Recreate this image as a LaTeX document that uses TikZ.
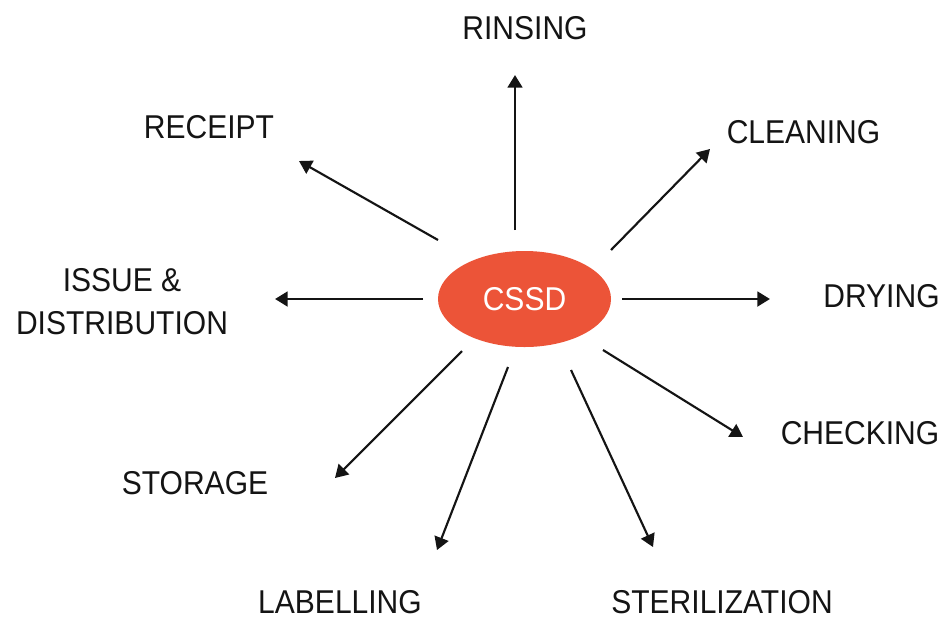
\documentclass[tikz,border=0pt]{standalone}
\usepackage{fontspec}
\setmainfont{Liberation Sans}[FakeStretch=0.91]
\usetikzlibrary{arrows.meta,shapes.geometric}
\definecolor{hubred}{HTML}{EC5438}
\definecolor{inkgray}{HTML}{141414}
\tikzset{
  stage/.style={font=\fontsize{24.75pt}{32.25pt}\selectfont, text=inkgray, inner sep=0pt, anchor=base},
  hub/.style={ellipse, fill=hubred, minimum width=129.75pt, minimum height=72pt, inner sep=0pt,
              text=white, font=\fontsize{24.75pt}{30pt}\selectfont},
  flow/.style={draw=inkgray, line width=1.6pt, -{Triangle[length=9.5pt,width=11pt]}},
  axisflow/.style={flow, line width=2.1pt},
}
\begin{document}
\begin{tikzpicture}[x=0.75pt, y=-0.75pt]
  \useasboundingbox (0,0) rectangle (944,619);
  \fill[white] (0,0) rectangle (944,619);

  % central unit
  \node[hub] (c) at (524.5,299) {CSSD};

  % stages around it
  \node[stage] (rinsing)  at (525,39)   {RINSING};
  \node[stage] (cleaning) at (803.5,143) {CLEANING};
  \node[stage] (drying)   at (881.5,307) {DRYING};
  \node[stage] (checking) at (860,444)  {CHECKING};
  \node[stage] (steril)   at (722,613)  {STERILIZATION};
  \node[stage] (label)    at (340,613)  {LABELLING};
  \node[stage] (storage)  at (195,494)  {STORAGE};
  \node[stage, align=center, anchor=center] (issue) at (122,301.5) {ISSUE \&\\DISTRIBUTION};
  \node[stage] (receipt)  at (209,138)  {RECEIPT};

  % arrow ends, just off the hub and just short of each stage
  \coordinate (s1) at (515,230);  \coordinate (t1) at (515,75);
  \coordinate (s2) at (611,250);  \coordinate (t2) at (710,149);
  \coordinate (s3) at (622,299);  \coordinate (t3) at (770,299);
  \coordinate (s4) at (603,350);  \coordinate (t4) at (743,437);
  \coordinate (s5) at (571,370);  \coordinate (t5) at (653,547);
  \coordinate (s6) at (508,367);  \coordinate (t6) at (437,550);
  \coordinate (s7) at (462,351);  \coordinate (t7) at (335,478);
  \coordinate (s8) at (423,299);  \coordinate (t8) at (275,299);
  \coordinate (s9) at (438,240);  \coordinate (t9) at (299,161);

  \draw[axisflow] (s1) -- (t1);
  \draw[flow]     (s2) -- (t2);
  \draw[axisflow] (s3) -- (t3);
  \draw[flow]     (s4) -- (t4);
  \draw[flow]     (s5) -- (t5);
  \draw[flow]     (s6) -- (t6);
  \draw[flow]     (s7) -- (t7);
  \draw[axisflow] (s8) -- (t8);
  \draw[flow]     (s9) -- (t9);
\end{tikzpicture}
\end{document}
